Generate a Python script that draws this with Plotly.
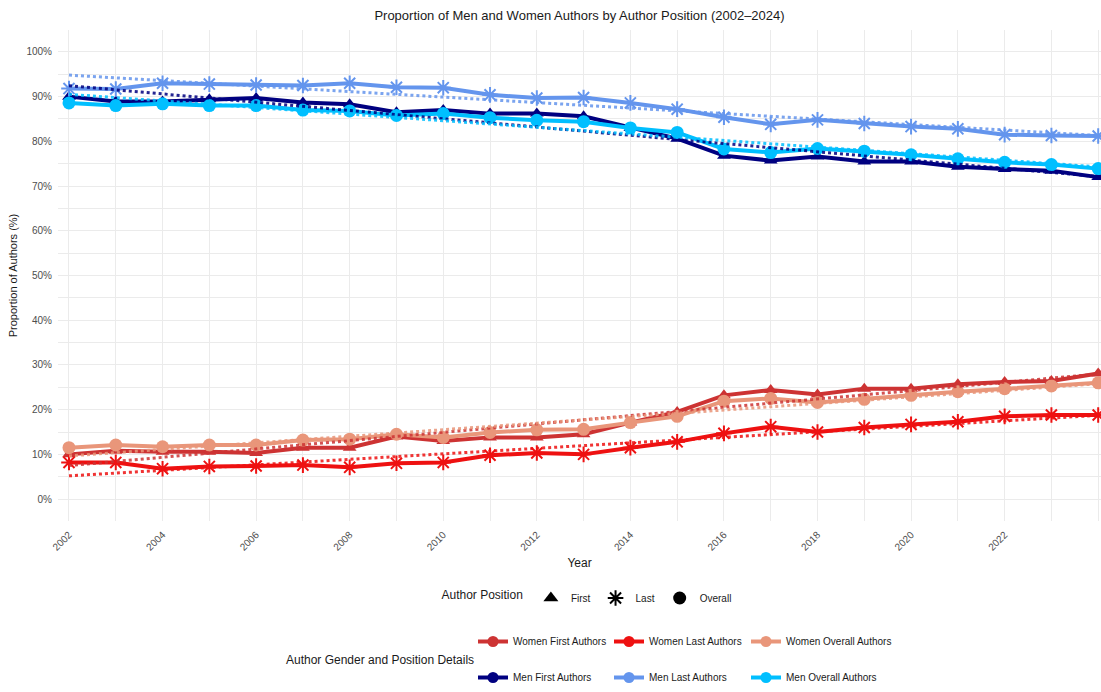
import numpy as np
import plotly.graph_objects as go

years = list(range(2002, 2025))

women_first = [10.0, 10.8, 10.6, 10.6, 10.3, 11.5, 11.5, 14.0, 13.0, 13.8, 13.8, 14.5, 17.1, 19.5, 23.2, 24.4, 23.4, 24.7, 24.7, 25.7, 26.2, 26.4, 28.1]
women_last = [8.2, 8.2, 6.8, 7.3, 7.4, 7.6, 7.1, 8.0, 8.2, 9.8, 10.3, 10.0, 11.5, 12.8, 14.7, 16.2, 15.0, 16.0, 16.7, 17.3, 18.5, 18.8, 18.8]
women_overall = [11.5, 12.1, 11.7, 12.1, 12.1, 13.2, 13.4, 14.5, 13.8, 14.9, 15.5, 15.6, 17.1, 18.5, 21.9, 22.5, 21.6, 22.3, 23.2, 24.0, 24.7, 25.3, 26.0]
men_first = [90.0, 88.9, 88.9, 89.4, 89.7, 88.7, 88.3, 86.5, 87.0, 86.2, 86.2, 85.6, 83.0, 80.6, 76.8, 75.7, 76.6, 75.5, 75.5, 74.3, 73.8, 73.4, 72.0]
men_last = [91.8, 91.7, 93.0, 92.8, 92.6, 92.5, 93.0, 92.1, 92.0, 90.4, 89.7, 89.8, 88.6, 87.2, 85.4, 83.8, 84.8, 84.0, 83.3, 82.8, 81.5, 81.3, 81.2]
men_overall = [88.6, 88.0, 88.4, 88.0, 88.0, 87.0, 86.8, 85.8, 86.2, 85.3, 84.7, 84.4, 83.0, 82.0, 78.3, 77.5, 78.4, 77.8, 77.0, 76.1, 75.3, 74.8, 73.9]

series_names = ["Women First Authors", "Women Last Authors", "Women Overall Authors",
                "Men First Authors", "Men Last Authors", "Men Overall Authors"]
series_values = [women_first, women_last, women_overall, men_first, men_last, men_overall]
series_colors = ["#CD3333", "#EE1111", "#E9967A", "#000080", "#6495ED", "#00BFFF"]
series_pos = ["First", "Last", "Overall", "First", "Last", "Overall"]

pos_names = ["First", "Last", "Overall"]
pos_symbols = {"First": "triangle-up", "Last": "asterisk-open", "Overall": "circle"}
pos_sizes = {"First": 12, "Last": 13, "Overall": 13}

y_ticks = list(range(0, 101, 10))
y_tick_labels = [f"{v}%" for v in y_ticks]

FONT = "Liberation Sans, Arial, Helvetica, sans-serif"

fig = go.Figure()

# main lines
for name, vals, col, pos in zip(series_names, series_values, series_colors, series_pos):
    sym = pos_symbols[pos]
    fig.add_trace(go.Scatter(
        x=years, y=vals, mode="lines+markers", name=name, showlegend=False,
        line=dict(color=col, width=4),
        marker=dict(symbol=sym, size=pos_sizes[pos], color=col,
                    line=dict(color=col, width=2 if pos == "Last" else 0)),
    ))

# linear trend lines
yr = np.array(years, dtype=float)
for name, vals, col in zip(series_names, series_values, series_colors):
    k, b = np.polyfit(yr, np.array(vals, dtype=float), 1)
    fig.add_trace(go.Scatter(
        x=years, y=list(k * yr + b), mode="lines", showlegend=False, hoverinfo="skip",
        line=dict(color=col, width=3, dash="dot"), opacity=0.85,
    ))

# legend: author position (shapes)
for p in pos_names:
    fig.add_trace(go.Scatter(
        x=[None], y=[None], mode="markers", name=p, legend="legend2",
        marker=dict(symbol=pos_symbols[p], size=13, color="black",
                    line=dict(color="black", width=2 if p == "Last" else 0)),
    ))

# legend: gender and position colours (three columns of two rows)
col_legends = ["legend", "legend3", "legend4"]
for i, (name, col) in enumerate(zip(series_names, series_colors)):
    fig.add_trace(go.Scatter(
        x=[None], y=[None], mode="lines+markers", name=name,
        legend=col_legends[i % 3], legendgroup=name,
        line=dict(color=col, width=4),
        marker=dict(symbol="circle", size=11, color=col),
    ))

axis_common = dict(
    showline=False, zeroline=False, ticks="",
    gridcolor="#EBEBEB", gridwidth=1.1,
    tickfont=dict(family=FONT, size=10, color="#4D4D4D"),
)


def col_legend(px_x):
    return dict(
        orientation="v", x=(px_x - 58) / 1043, xanchor="left",
        y=(522 - 661) / 492, yanchor="middle",
        itemwidth=30, tracegroupgap=17,
        font=dict(family=FONT, size=10, color="#1A1A1A"),
        bgcolor="rgba(0,0,0,0)",
    )


fig.update_layout(
    width=1101, height=692,
    margin=dict(l=58, r=0, t=30, b=170),
    paper_bgcolor="white", plot_bgcolor="white",
    font=dict(family=FONT, color="#1A1A1A"),
    title=dict(text="Proportion of Men and Women Authors by Author Position (2002–2024)",
               x=(579.5 / 1101), xanchor="center", y=1 - 15 / 692, yanchor="middle",
               font=dict(family=FONT, size=13, color="#1A1A1A")),
    xaxis=dict(
        **axis_common,
        range=[2001.765, 2024.06], tick0=2002, dtick=2, tickangle=-45,
        ticklabelstandoff=5,
        minor=dict(dtick=1, showgrid=True, gridcolor="#EBEBEB", gridwidth=0.6),
        title=dict(text="Year", font=dict(family=FONT, size=12, color="#1A1A1A"), standoff=6),
    ),
    yaxis=dict(
        **axis_common,
        range=[-4.9, 104.9], tickvals=y_ticks, ticktext=y_tick_labels,
        ticklabelstandoff=5,
        minor=dict(dtick=5, tick0=0, showgrid=True, gridcolor="#EBEBEB", gridwidth=0.6),
        title=dict(text="Proportion of Authors (%)", font=dict(family=FONT, size=11, color="#1A1A1A"), standoff=6),
    ),
    legend=col_legend(473),
    legend3=col_legend(609),
    legend4=col_legend(746),
    legend2=dict(
        orientation="h", x=(588 - 58) / 1043, xanchor="center", y=(522 - 598) / 492, yanchor="middle",
        itemwidth=30, font=dict(family=FONT, size=10, color="#1A1A1A"),
        title=dict(text="Author Position", side="left", font=dict(family=FONT, size=12, color="#1A1A1A")),
        bgcolor="rgba(0,0,0,0)",
    ),
    annotations=[dict(
        text="Author Gender and Position Details", xref="paper", yref="paper",
        x=(476 - 58) / 1043, xanchor="right", y=(522 - 661) / 492, yanchor="middle",
        showarrow=False, font=dict(family=FONT, size=12, color="#1A1A1A"),
    )],
)

fig.write_html("out.html")
